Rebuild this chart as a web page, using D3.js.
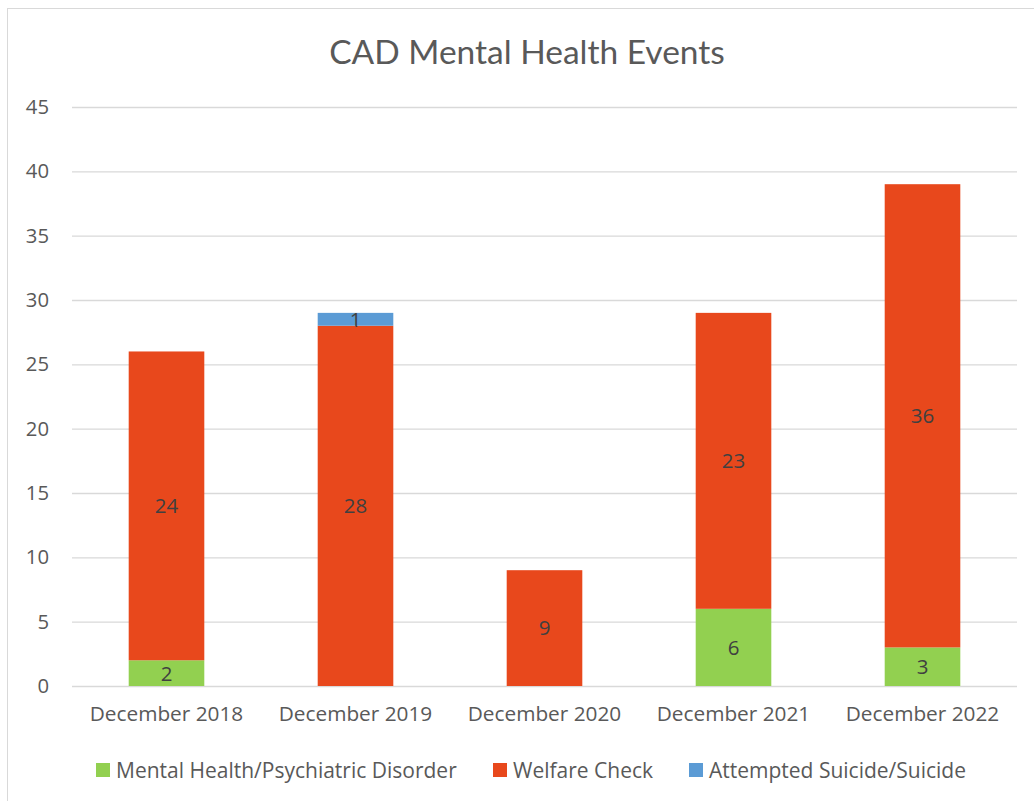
<!DOCTYPE html>
<html><head><meta charset="utf-8">
<script src="https://cdn.jsdelivr.net/npm/d3@7"></script>
<style>body{margin:0;background:#fff}svg{display:block}</style>
</head><body>
<script>
const categories = ["December 2018","December 2019","December 2020","December 2021","December 2022"];
const seriesNames = ["Mental Health/Psychiatric Disorder","Welfare Check","Attempted Suicide/Suicide"];
const mentalHealth = [2,0,0,6,3];
const welfareCheck = [24,28,9,23,36];
const attemptedSuicide = [0,1,0,0,0];
const yTicks = [0,5,10,15,20,25,30,35,40,45];
const colors = ["#92D050","#E8481C","#5B9BD5"];

const W=1034,H=801;
const svg=d3.select("body").append("svg").attr("width",W).attr("height",H);
const font="'Open Sans', sans-serif";
const tfont="Lato, sans-serif";
svg.append("rect").attr("x",7.5).attr("y",8.5).attr("width",W).attr("height",H).attr("fill","#fff").attr("stroke","#D9D9D9");

const m={l:72,r:1017,t:107,b:686};
const x=d3.scaleBand().domain(categories).range([m.l,m.r]).paddingInner(0.6).paddingOuter(0.3);
const y=d3.scaleLinear().domain([0,45]).range([m.b,m.t]);

svg.append("text").attr("x",527).attr("y",64).attr("text-anchor","middle").attr("font-family",tfont).attr("font-size",33.5).attr("fill","#595959").text("CAD Mental Health Events");

const ga=svg.append("g").attr("transform",`translate(${m.l},0)`).call(d3.axisLeft(y).tickValues(yTicks).tickSize(-(m.r-m.l)).tickPadding(24));
ga.select(".domain").remove();
ga.selectAll(".tick line").attr("stroke","#D9D9D9").attr("stroke-width",1.3);
ga.selectAll(".tick text").attr("font-family",font).attr("font-size",20.3).attr("fill","#595959").attr("text-anchor","end").attr("x",-23);

const gx=svg.append("g").attr("transform",`translate(0,${m.b})`).call(d3.axisBottom(x).tickSize(0).tickPadding(20));
gx.select(".domain").remove();
gx.selectAll(".tick text").attr("font-family",font).attr("font-size",20.8).attr("fill","#595959");

const data=categories.map((c,i)=>({cat:c,mh:mentalHealth[i],wc:welfareCheck[i],as:attemptedSuicide[i]}));
const stack=d3.stack().keys(["mh","wc","as"])(data);
stack.forEach((s,si)=>{
  const g=svg.append("g");
  g.selectAll("rect").data(s).join("rect")
    .attr("x",d=>x(d.data.cat)).attr("width",x.bandwidth())
    .attr("y",d=>y(d[1])).attr("height",d=>y(d[0])-y(d[1]))
    .attr("fill",colors[si]);
  g.selectAll("text").data(s.filter(d=>d[1]-d[0]>0)).join("text")
    .attr("x",d=>x(d.data.cat)+x.bandwidth()/2)
    .attr("y",d=>(y(d[0])+y(d[1]))/2).attr("dy","0.36em")
    .attr("text-anchor","middle").attr("font-family",font).attr("font-size",20.5).attr("fill","#404040")
    .text(d=>d[1]-d[0]);
});

const legX=[96,493,689];
const lg=svg.append("g");
seriesNames.forEach((n,i)=>{
  lg.append("rect").attr("x",legX[i]).attr("y",763).attr("width",14).attr("height",14).attr("fill",colors[i]);
  lg.append("text").attr("x",legX[i]+20).attr("y",770).attr("dy","0.36em").attr("font-family",font).attr("font-size",21).attr("fill","#595959").text(n);
});
</script>
</body></html>
